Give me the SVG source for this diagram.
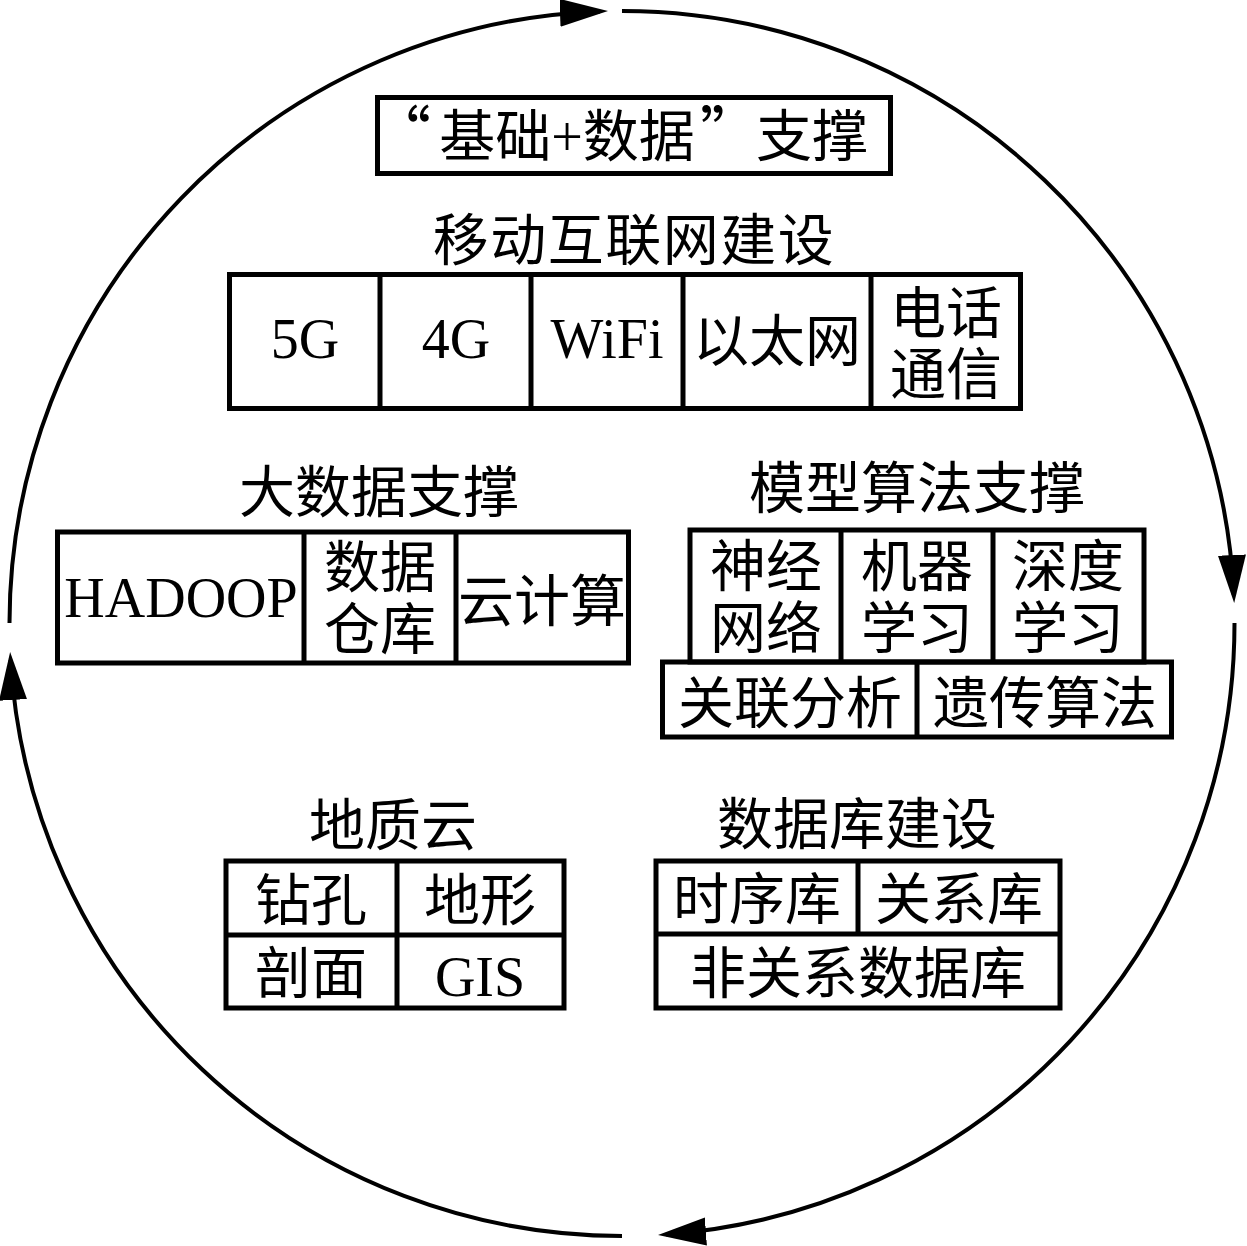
<svg xmlns="http://www.w3.org/2000/svg" width="1247" height="1246" viewBox="0 0 1247 1246">
<defs>
<style>
.b{fill:none;stroke:#000;stroke-width:5}
.t{font-family:'Liberation Serif','Noto Sans CJK SC',serif;font-size:56px;fill:#000;text-anchor:middle}
.q{font-family:'Noto Sans CJK SC',sans-serif;font-size:60px}
.c{fill:none;stroke:#000;stroke-width:4}
</style>
<marker id="ah" markerUnits="userSpaceOnUse" markerWidth="50" markerHeight="30" refX="40" refY="14" orient="auto">
<path d="M0,0 L48,14 L0,28 Z" fill="#000"/>
</marker>
</defs>
<rect width="1247" height="1246" fill="#fff"/>
<g id="connectors">
<path class="c" marker-end="url(#ah)" d="M9.5,623 A612.5,612.5 0 0 1 600,11.4"/>
<path class="c" marker-end="url(#ah)" d="M622,11 A612.5,612.5 0 0 1 1233.8,595"/>
<path class="c" marker-end="url(#ah)" d="M1234.5,623 A612.5,612.5 0 0 1 666,1234.4"/>
<path class="c" marker-end="url(#ah)" d="M622,1236 A612.5,612.5 0 0 1 10.6,660"/>
</g>
<g id="title">
<rect class="b" x="377.5" y="97.5" width="513" height="76"/>
<text class="t" y="156"><tspan class="q" x="401">“</tspan><tspan x="567">基础+数据</tspan><tspan class="q" x="730">”</tspan><tspan x="812">支撑</tspan></text>
</g>
<g id="network">
<text class="t" x="634" y="260" letter-spacing="1.5">移动互联网建设</text>
<rect class="b" x="229.5" y="274.5" width="791" height="134"/>
<path class="b" d="M380,274.5V408.5M531,274.5V408.5M683,274.5V408.5M871,274.5V408.5"/>
<text class="t" x="305" y="358">5G</text>
<text class="t" x="456" y="358">4G</text>
<text class="t" x="607" y="358">WiFi</text>
<text class="t" x="777" y="361">以太网</text>
<text class="t" x="946" y="333">电话</text>
<text class="t" x="946" y="394">通信</text>
</g>
<g id="bigdata">
<text class="t" x="379" y="512">大数据支撑</text>
<rect class="b" x="57.5" y="532" width="571" height="131"/>
<path class="b" d="M304,532V663M456,532V663"/>
<text class="t" x="181" y="617">HADOOP</text>
<text class="t" x="380" y="587">数据</text>
<text class="t" x="380" y="649">仓库</text>
<text class="t" x="542" y="621">云计算</text>
</g>
<g id="algorithm">
<text class="t" x="917" y="508">模型算法支撑</text>
<rect class="b" x="690" y="530" width="454" height="132"/>
<path class="b" d="M841,530V662M993,530V662"/>
<rect class="b" x="662.5" y="662" width="509" height="75"/>
<path class="b" d="M917,662V737"/>
<text class="t" x="766" y="586">神经</text>
<text class="t" x="766" y="648">网络</text>
<text class="t" x="917" y="586">机器</text>
<text class="t" x="917" y="648">学习</text>
<text class="t" x="1068" y="586">深度</text>
<text class="t" x="1068" y="648">学习</text>
<text class="t" x="790" y="723">关联分析</text>
<text class="t" x="1045" y="723">遗传算法</text>
</g>
<g id="geocloud">
<text class="t" x="393" y="845">地质云</text>
<rect class="b" x="226" y="861" width="338" height="147"/>
<path class="b" d="M397,861V1008M226,935H564"/>
<text class="t" x="311" y="920">钻孔</text>
<text class="t" x="480" y="920">地形</text>
<text class="t" x="311" y="993">剖面</text>
<text class="t" x="480" y="996">GIS</text>
</g>
<g id="database">
<text class="t" x="857" y="844">数据库建设</text>
<rect class="b" x="656" y="861" width="404" height="147"/>
<path class="b" d="M858,861V934M656,934H1060"/>
<text class="t" x="757" y="919">时序库</text>
<text class="t" x="959" y="919">关系库</text>
<text class="t" x="858" y="993">非关系数据库</text>
</g>
</svg>
